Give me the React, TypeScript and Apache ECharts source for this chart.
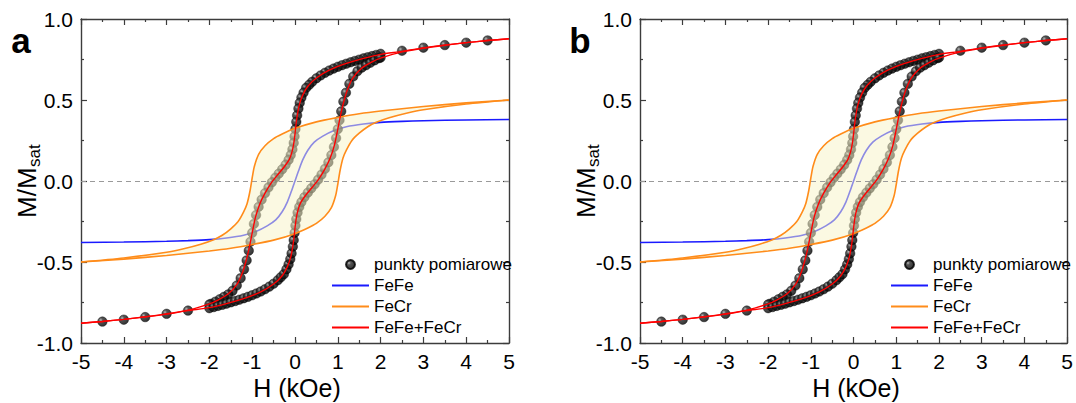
import React, { useEffect, useRef } from "react";
import * as echarts from "echarts";

const FONT = '"Liberation Sans", Arial, Helvetica, sans-serif';

const panelLetters = ["a", "b"];
const xAxisTitle = "H (kOe)";
const yAxisTitleMain = "M/M";
const yAxisTitleSub = "sat";
const legendNames = ["punkty pomiarowe", "FeFe", "FeCr", "FeFe+FeCr"];

// measured points, descending field branch (H kOe, M/Msat)
const measuredDown: number[][] = [
  [2.0, 0.785], [1.9, 0.778], [1.8, 0.771], [1.7, 0.764], [1.6, 0.757], [1.5, 0.749],
  [1.4, 0.741], [1.3, 0.733], [1.2, 0.724], [1.1, 0.715], [1.0, 0.705], [0.9, 0.694],
  [0.8, 0.682], [0.7, 0.668], [0.6, 0.652], [0.5, 0.634], [0.4, 0.612], [0.33, 0.594],
  [0.26, 0.575], [0.2, 0.545], [0.15, 0.515], [0.11, 0.482], [0.08, 0.447], [0.05, 0.405],
  [0.03, 0.365], [0.01, 0.32], [-0.01, 0.275], [-0.03, 0.235], [-0.06, 0.195], [-0.1, 0.16],
  [-0.15, 0.13], [-0.22, 0.1], [-0.3, 0.072], [-0.38, 0.045], [-0.46, 0.02], [-0.54, -0.008],
  [-0.62, -0.04], [-0.7, -0.075], [-0.78, -0.115], [-0.85, -0.16], [-0.91, -0.21], [-0.96, -0.265],
  [-1.0, -0.32], [-1.04, -0.375], [-1.08, -0.43], [-1.13, -0.49], [-1.19, -0.545], [-1.27, -0.6],
  [-1.36, -0.645], [-1.46, -0.678], [-1.56, -0.7], [-1.66, -0.715], [-1.76, -0.73], [-1.86, -0.745],
  [-1.96, -0.758], [-2.0, -0.762],
];

// measured points, ascending field branch
const measuredUp: number[][] = [
  [-2.0, -0.785], [-1.9, -0.778], [-1.8, -0.771], [-1.7, -0.764], [-1.6, -0.757], [-1.5, -0.749],
  [-1.4, -0.741], [-1.3, -0.733], [-1.2, -0.724], [-1.1, -0.715], [-1.0, -0.705], [-0.9, -0.694],
  [-0.8, -0.682], [-0.7, -0.668], [-0.6, -0.652], [-0.5, -0.634], [-0.4, -0.612], [-0.33, -0.594],
  [-0.26, -0.575], [-0.2, -0.545], [-0.15, -0.515], [-0.11, -0.482], [-0.08, -0.447], [-0.05, -0.405],
  [-0.03, -0.365], [-0.01, -0.32], [0.01, -0.275], [0.03, -0.235], [0.06, -0.195], [0.1, -0.16],
  [0.15, -0.13], [0.22, -0.1], [0.3, -0.072], [0.38, -0.045], [0.46, -0.02], [0.54, 0.008],
  [0.62, 0.04], [0.7, 0.075], [0.78, 0.115], [0.85, 0.16], [0.91, 0.21], [0.96, 0.265],
  [1.0, 0.32], [1.04, 0.375], [1.08, 0.43], [1.13, 0.49], [1.19, 0.545], [1.27, 0.6],
  [1.36, 0.645], [1.46, 0.678], [1.56, 0.7], [1.66, 0.715], [1.76, 0.73], [1.86, 0.745],
  [1.96, 0.758], [2.0, 0.762],
];

// sparse measured points at high field
const measuredSparse: number[][] = [
  [2.5, 0.804], [3.0, 0.823], [3.5, 0.839], [4.0, 0.854], [4.5, 0.868],
  [-2.5, -0.8], [-3.0, -0.82], [-3.5, -0.84], [-4.0, -0.856], [-4.5, -0.868],
];

// FeFe+FeCr fit, descending branch
const fitDown: number[][] = [
  [5, 0.878], [4.5, 0.867], [4, 0.854], [3.5, 0.839], [3, 0.822], [2.5, 0.8], [2, 0.782],
  [1.6, 0.757], [1.2, 0.726], [0.8, 0.684], [0.5, 0.636], [0.3, 0.585], [0.18, 0.53],
  [0.1, 0.47], [0.05, 0.4], [0.02, 0.34], [0, 0.29], [-0.03, 0.23], [-0.07, 0.18],
  [-0.13, 0.135], [-0.25, 0.088], [-0.4, 0.04], [-0.55, -0.01], [-0.7, -0.075], [-0.82, -0.14],
  [-0.92, -0.22], [-1.0, -0.32], [-1.06, -0.4], [-1.13, -0.48], [-1.22, -0.56], [-1.35, -0.635],
  [-1.55, -0.695], [-1.8, -0.735], [-2.0, -0.758], [-2.5, -0.797], [-3, -0.82], [-3.5, -0.838],
  [-4, -0.854], [-4.5, -0.867], [-5, -0.878],
];

// FeFe+FeCr fit, ascending branch
const fitUp: number[][] = [
  [-5, -0.878], [-4.5, -0.867], [-4, -0.854], [-3.5, -0.839], [-3, -0.822], [-2.5, -0.8], [-2, -0.782],
  [-1.6, -0.757], [-1.2, -0.726], [-0.8, -0.684], [-0.5, -0.636], [-0.3, -0.585], [-0.18, -0.53],
  [-0.1, -0.47], [-0.05, -0.4], [-0.02, -0.34], [0, -0.29], [0.03, -0.23], [0.07, -0.18],
  [0.13, -0.135], [0.25, -0.088], [0.4, -0.04], [0.55, 0.01], [0.7, 0.075], [0.82, 0.14],
  [0.92, 0.22], [1.0, 0.32], [1.06, 0.4], [1.13, 0.48], [1.22, 0.56], [1.35, 0.635],
  [1.55, 0.695], [1.8, 0.735], [2.0, 0.758], [2.5, 0.797], [3, 0.82], [3.5, 0.838],
  [4, 0.854], [4.5, 0.867], [5, 0.878],
];

// FeCr component, descending branch
const fecrDown: number[][] = [
  [5, 0.5], [4, 0.482], [3, 0.46], [2, 0.432], [1.5, 0.415], [1, 0.392], [0.5, 0.365],
  [0, 0.325], [-0.3, 0.29], [-0.5, 0.262], [-0.7, 0.218], [-0.85, 0.165], [-0.95, 0.09],
  [-1.0, 0.02], [-1.05, -0.06], [-1.12, -0.14], [-1.2, -0.19], [-1.33, -0.25], [-1.5, -0.295],
  [-1.7, -0.335], [-1.9, -0.362], [-2.2, -0.39], [-2.6, -0.418], [-3, -0.44], [-4, -0.475], [-5, -0.5],
];

// FeCr component, ascending branch
const fecrUp: number[][] = [
  [-5, -0.5], [-4, -0.482], [-3, -0.46], [-2, -0.432], [-1.5, -0.415], [-1, -0.392], [-0.5, -0.365],
  [0, -0.325], [0.3, -0.29], [0.5, -0.262], [0.7, -0.218], [0.85, -0.165], [0.95, -0.09],
  [1.0, -0.02], [1.05, 0.06], [1.12, 0.14], [1.2, 0.19], [1.33, 0.25], [1.5, 0.295],
  [1.7, 0.335], [1.9, 0.362], [2.2, 0.39], [2.6, 0.418], [3, 0.44], [4, 0.475], [5, 0.5],
];

// FeFe component
const fefe: number[][] = [
  [-5, -0.38], [-4, -0.377], [-3, -0.372], [-2.5, -0.368], [-2, -0.362], [-1.6, -0.352],
  [-1.2, -0.335], [-0.9, -0.31], [-0.65, -0.277], [-0.45, -0.24], [-0.3, -0.19], [-0.18, -0.13],
  [-0.08, -0.06], [0, 0], [0.08, 0.06], [0.18, 0.13], [0.3, 0.19], [0.45, 0.24], [0.65, 0.277],
  [0.9, 0.31], [1.2, 0.335], [1.6, 0.352], [2, 0.362], [2.5, 0.368], [3, 0.372], [4, 0.377], [5, 0.38],
];

const GRID_TOP = 19;
const GRID_W = 428;
const GRID_H = 324;
const panelLefts = [81, 640];

const AXIS_COLOR = "#3c3c3c";
const BLUE = "#1a1aff";
const ORANGE = "#ff8c1a";
const RED = "#ff0000";

function buildOption() {
  const grid = panelLefts.map((left) => ({ left, top: GRID_TOP, width: GRID_W, height: GRID_H }));
  const axisLine = { show: true, onZero: false, lineStyle: { color: AXIS_COLOR, width: 1.4 } };
  const axisTick = { show: true, inside: true, length: 6, lineStyle: { color: AXIS_COLOR, width: 1.2 } };
  const minorTick = { show: true, splitNumber: 2, length: 3, lineStyle: { color: AXIS_COLOR, width: 1.2 } };
  const labelStyle = { fontSize: 21, color: "#000", fontFamily: FONT };

  const xAxis: any[] = [];
  const yAxis: any[] = [];
  panelLefts.forEach((_, i) => {
    xAxis.push({
      gridIndex: i, type: "value", min: -5, max: 5, interval: 1, position: "bottom",
      axisLine, axisTick, minorTick, splitLine: { show: false },
      axisLabel: { ...labelStyle, margin: 8 },
    });
    xAxis.push({
      gridIndex: i, type: "value", min: -5, max: 5, interval: 1, position: "top",
      axisLine, axisTick, minorTick, splitLine: { show: false }, axisLabel: { show: false },
    });
    yAxis.push({
      gridIndex: i, type: "value", min: -1, max: 1, interval: 0.5, position: "left",
      axisLine, axisTick, minorTick, splitLine: { show: false },
      axisLabel: { ...labelStyle, margin: 8, formatter: (v: number) => v.toFixed(1) },
    });
    yAxis.push({
      gridIndex: i, type: "value", min: -1, max: 1, interval: 0.5, position: "right",
      axisLine, axisTick, minorTick, splitLine: { show: false }, axisLabel: { show: false },
    });
  });

  const ball = {
    type: "radial", x: 0.33, y: 0.33, r: 0.7,
    colorStops: [
      { offset: 0, color: "#a8a8a8" },
      { offset: 0.3, color: "#2a2a2a" },
      { offset: 1, color: "#000000" },
    ],
  };

  const fillPolygon = [...fecrDown, ...fecrUp];

  const series: any[] = [];
  panelLefts.forEach((_, i) => {
    const xi = 2 * i;
    const yi = 2 * i;
    series.push({
      name: "FeFe", type: "line", xAxisIndex: xi, yAxisIndex: yi, data: fefe, z: 2,
      symbol: "none", smooth: 0.25, lineStyle: { color: BLUE, width: 1.6 }, itemStyle: { color: BLUE },
      markLine: {
        silent: true, symbol: "none", label: { show: false },
        lineStyle: { type: [5, 4], color: "#9a9a9a", width: 1 },
        data: [{ yAxis: 0 }],
      },
    });
    series.push({
      name: "punkty pomiarowe", type: "scatter", xAxisIndex: xi, yAxisIndex: yi, z: 3,
      data: [...measuredDown, ...measuredUp, ...measuredSparse],
      symbol: "circle", symbolSize: 9.5,
      itemStyle: { color: ball, borderColor: "#000", borderWidth: 0.5 },
    });
    series.push({
      name: "fill", type: "custom", xAxisIndex: xi, yAxisIndex: yi, data: fillPolygon, z: 4,
      encode: { x: 0, y: 1 }, silent: true, clip: true,
      renderItem: (params: any, api: any) => {
        if (params.dataIndex !== 0) return null;
        const pts = fillPolygon.map((p) => api.coord(p));
        return {
          type: "polygon",
          z2: 0,
          shape: { points: pts, smooth: 0.25 },
          style: { fill: "rgba(248,243,200,0.52)", stroke: "none" },
        };
      },
    });
    series.push({
      name: "FeCr", type: "line", xAxisIndex: xi, yAxisIndex: yi, data: fecrDown, z: 5,
      symbol: "none", smooth: 0.25, lineStyle: { color: ORANGE, width: 1.6 }, itemStyle: { color: ORANGE },
    });
    series.push({
      name: "FeCr", type: "line", xAxisIndex: xi, yAxisIndex: yi, data: fecrUp, z: 5,
      symbol: "none", smooth: 0.25, lineStyle: { color: ORANGE, width: 1.6 }, itemStyle: { color: ORANGE },
    });
    series.push({
      name: "FeFe+FeCr", type: "line", xAxisIndex: xi, yAxisIndex: yi, data: fitDown, z: 6,
      symbol: "none", smooth: 0.25, lineStyle: { color: RED, width: 1.35 }, itemStyle: { color: RED },
    });
    series.push({
      name: "FeFe+FeCr", type: "line", xAxisIndex: xi, yAxisIndex: yi, data: fitUp, z: 6,
      symbol: "none", smooth: 0.25, lineStyle: { color: RED, width: 1.35 }, itemStyle: { color: RED },
    });
  });

  const legendData = legendNames.map((name, k) =>
    k === 0 ? { name } : { name, itemStyle: { opacity: 0 } }
  );

  const legend = panelLefts.map((left) => ({
    orient: "vertical", left: left + 245, top: 251,
    itemWidth: 37, itemHeight: 9, itemGap: 4,
    selectedMode: false, data: legendData,
    textStyle: { fontSize: 17, color: "#000", fontFamily: FONT },
  }));

  const graphic: any[] = [];
  panelLefts.forEach((left, i) => {
    graphic.push({
      type: "text", x: left - 60, y: 40,
      style: { text: panelLetters[i], fontSize: 35, fontWeight: "bold", fontFamily: FONT, fill: "#000", align: "center", verticalAlign: "middle" },
    });
    graphic.push({
      type: "text", x: left + GRID_W / 2 + 2, y: 388,
      style: { text: xAxisTitle, fontSize: 25, fontFamily: FONT, fill: "#000", align: "center", verticalAlign: "middle" },
    });
    graphic.push({
      type: "group", x: left - 54, y: 180, rotation: Math.PI / 2,
      children: [
        { type: "text", x: -38, y: 0, style: { text: yAxisTitleMain, fontSize: 26, fontFamily: FONT, fill: "#000", align: "left", verticalAlign: "middle" } },
        { type: "text", x: 13, y: 7, style: { text: yAxisTitleSub, fontSize: 17, fontFamily: FONT, fill: "#000", align: "left", verticalAlign: "middle" } },
      ],
    });
  });

  return {
    animation: false,
    backgroundColor: "#ffffff",
    grid, xAxis, yAxis, series, legend, graphic,
  };
}

export default function App() {
  const ref = useRef<HTMLDivElement>(null);
  useEffect(() => {
    if (!ref.current) return;
    const chart = echarts.init(ref.current, undefined, { renderer: "svg" });
    chart.setOption(buildOption() as any);
    return () => chart.dispose();
  }, []);
  return (
    <div
      ref={ref}
      style={{ position: "fixed", left: 0, top: 0, width: 1076, height: 403, background: "#fff" }}
    />
  );
}
